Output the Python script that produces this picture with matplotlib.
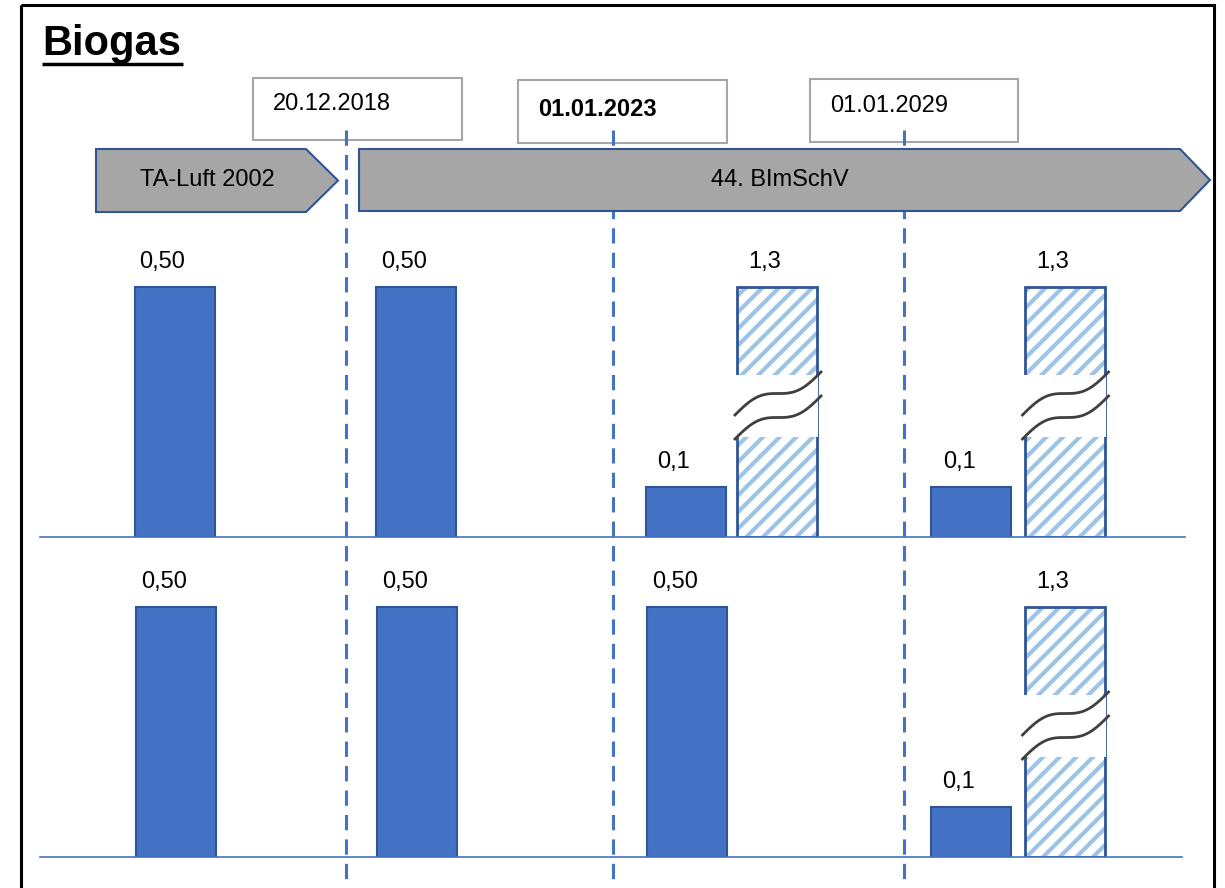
import numpy as np
import matplotlib
matplotlib.use('Agg')
import matplotlib.pyplot as plt
from matplotlib.patches import Rectangle, Polygon

plt.rcParams['font.family'] = ['Liberation Sans', 'DejaVu Sans']
plt.rcParams['hatch.linewidth'] = 3.0

# data
row1_values = [0.50, 0.50, 0.1, 1.3, 0.1, 1.3]
row1_labels = ['0,50', '0,50', '0,1', '1,3', '0,1', '1,3']
row1_hatched = [False, False, False, True, False, True]
row2_values = [0.50, 0.50, 0.50, 0.1, 1.3]
row2_labels = ['0,50', '0,50', '0,50', '0,1', '1,3']
row2_hatched = [False, False, False, False, True]
dates = ['20.12.2018', '01.01.2023', '01.01.2029']
date_bold = [False, True, False]
phases = ['TA-Luft 2002', '44. BImSchV']

# layout (pixels)
W, H = 1225, 888
row1_x = [174.5, 416, 685.5, 777, 971, 1064.5]
row2_x = [176, 417, 687, 970.5, 1064.5]
cut_x = [346, 613, 904]
date_boxes = [(253, 78, 209, 62), (518, 80, 209, 63), (810, 79, 208, 63)]
date_text_x = [273, 538, 830]
phase_arrows = [(96, 306, 338, 149, 212), (359, 1180, 1210, 149, 211)]
phase_text_x = [207, 780]
cap = 0.5          # displayed height of broken bars
brk = (0.2, 0.324)  # axis break region on broken bars

blue = '#4472c4'
dark = '#2f5597'
light = '#9dc3e6'

fig = plt.figure(figsize=(12.25, 8.88), dpi=100)
bg = fig.add_axes([0, 0, 1, 1])
bg.set_xlim(0, W)
bg.set_ylim(H, 0)
bg.axis('off')

# frame + title
bg.add_patch(Rectangle((21, 5), 1193, 900, fill=False, lw=2.2, ec='black'))
bg.text(42, 55, 'Biogas', fontsize=30, fontweight='bold', va='baseline')
bg.plot([42, 183], [64, 64], color='black', lw=2.5, solid_capstyle='butt')

# date boxes
for (bx, by, bw, bh), tx, d, b in zip(date_boxes, date_text_x, dates, date_bold):
    bg.add_patch(Rectangle((bx, by), bw, bh, fc='white', ec='#a6a6a6', lw=1.5, zorder=1))
    bg.text(tx, by + bh / 2 - 5 + (3 if b else 0), d, fontsize=17, va='center',
            fontweight='bold' if b else 'normal', zorder=4)

# dashed cut-off lines
for x in cut_x:
    bg.plot([x, x], [130, H], color=blue, lw=2.2, ls=(0, (5, 3)), zorder=2)

# phase arrows
for (x0, xb, xt, y0, y1), tx, p in zip(phase_arrows, phase_text_x, phases):
    yc = (y0 + y1) / 2
    bg.add_patch(Polygon([(x0, y0), (xb, y0), (xt, yc), (xb, y1), (x0, y1)],
                         closed=True, fc='#a6a6a6', ec=dark, lw=1.5, zorder=3))
    bg.text(tx, yc, p, fontsize=17, ha='center', va='center', zorder=4)


def draw_row(base, xs, values, labels, hatched, line_end):
    span = 300
    ax = fig.add_axes([0, 1 - base / H, 1, span / H])
    ax.set_xlim(0, W)
    ax.set_ylim(0, 0.6)
    ax.axis('off')
    ax.plot([40, line_end], [0, 0], color=blue, lw=1.2, clip_on=False)
    for x, v, lab, h in zip(xs, values, labels, hatched):
        if h:
            disp = min(v, cap)
            ax.bar(x, disp, width=80, color='white', edgecolor=light, hatch='//', lw=0)
            ax.bar(x, disp, width=80, fill=False, edgecolor=dark, lw=2)
            if v > cap:
                ax.add_patch(Rectangle((x - 41, brk[0]), 82, brk[1] - brk[0],
                                       fc='white', ec='none', zorder=3))
                t = np.linspace(0, 1, 60)
                xx = x - 42 + 86 * t
                s = t + np.sin(2 * np.pi * t) / (2 * np.pi)
                ax.plot(xx, 0.244 + 0.086 * s, color='#404040', lw=2, zorder=4)
                ax.plot(xx, 0.196 + 0.086 * s, color='#404040', lw=2, zorder=4)
        else:
            disp = v
            ax.bar(x, v, width=80, color=blue, edgecolor=dark, lw=1.5)
        ax.text(x - 12, disp + 0.05, lab, fontsize=17, ha='center', va='center')
    return ax


draw_row(537, row1_x, row1_values, row1_labels, row1_hatched, 1185)
draw_row(857, row2_x, row2_values, row2_labels, row2_hatched, 1182)

fig.savefig('out.png', dpi=100)
